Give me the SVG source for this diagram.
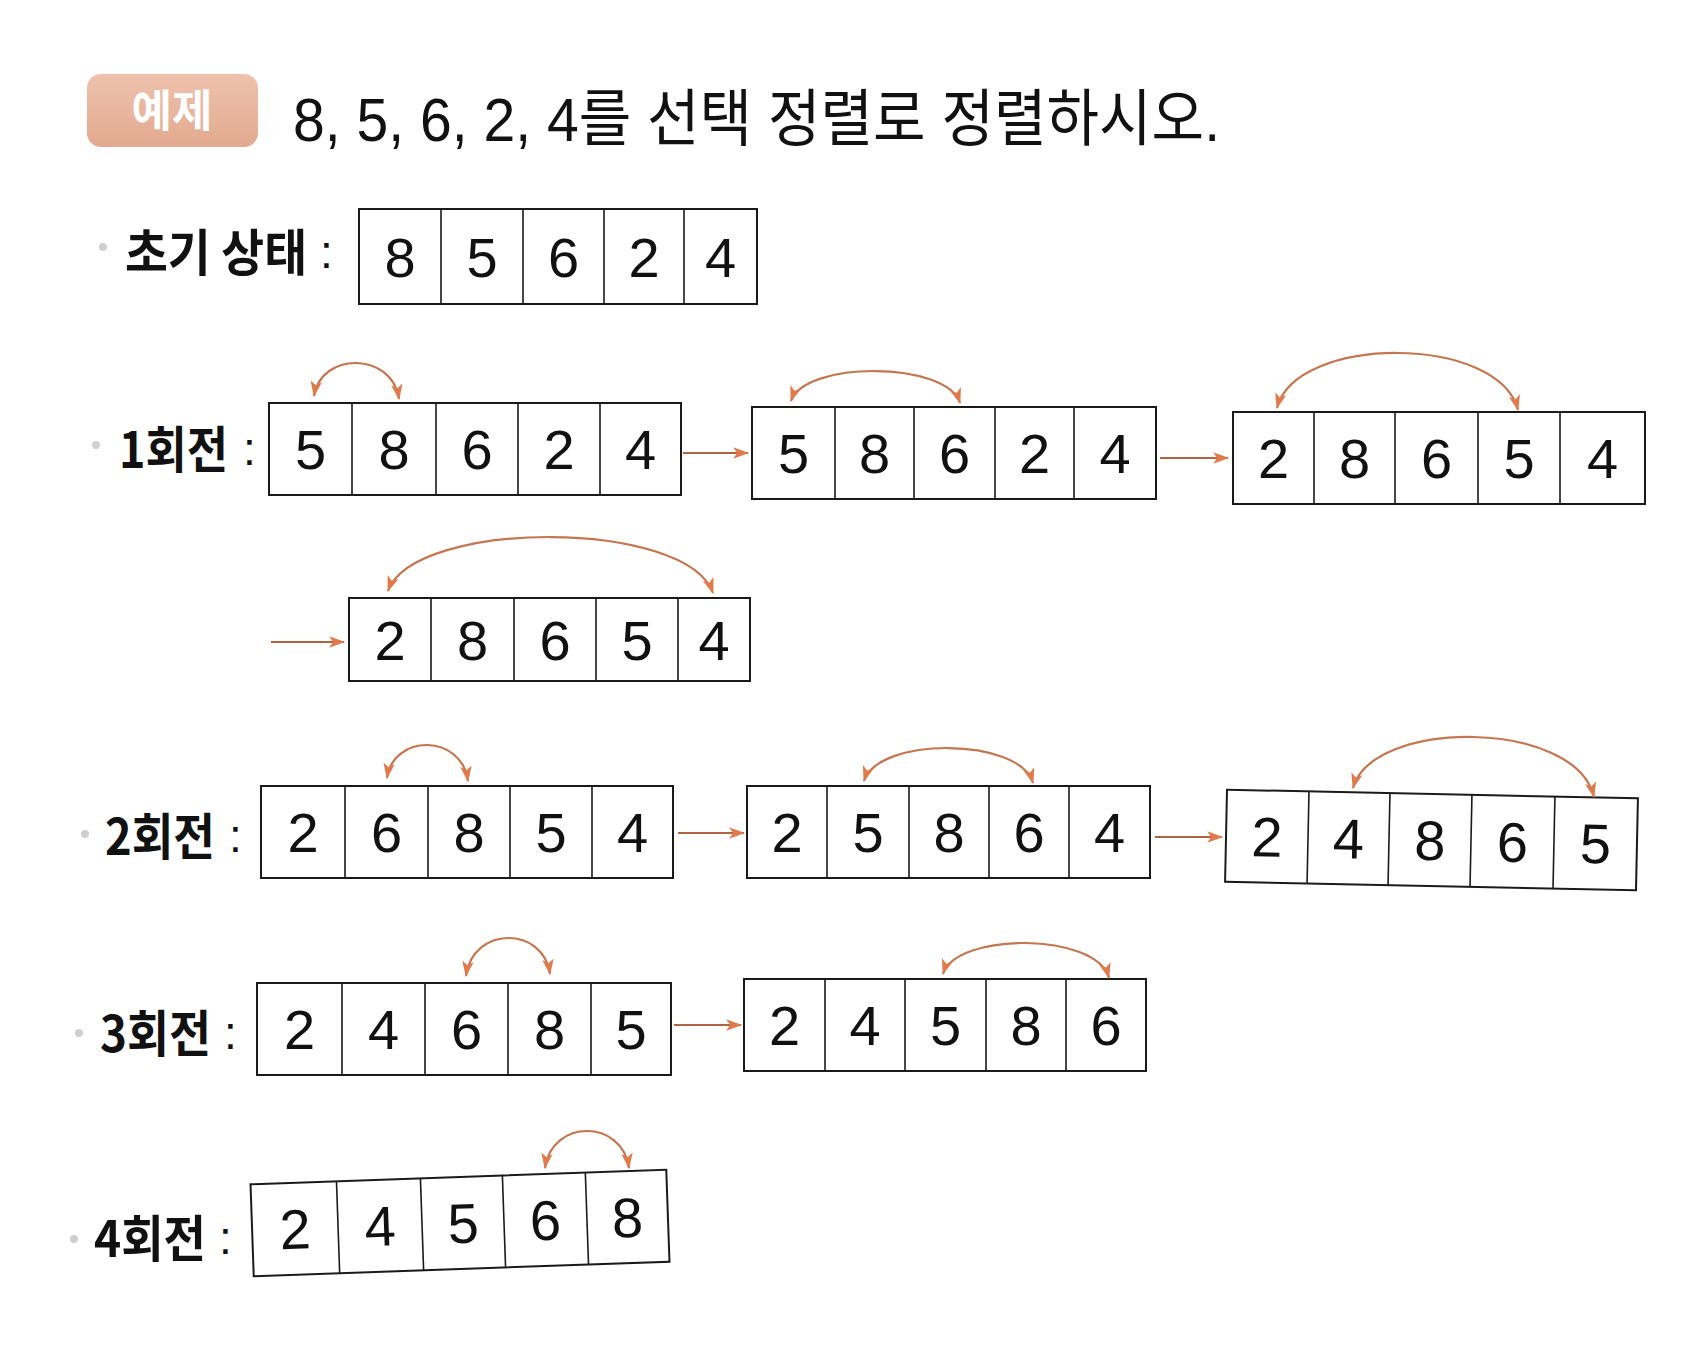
<svg xmlns="http://www.w3.org/2000/svg" width="1700" height="1367" viewBox="0 0 1700 1367">
<style>
.bg{fill:#ffffff}
.cell{fill:#ffffff;stroke:#1a1a1a;stroke-width:2}
.div{stroke:#1a1a1a;stroke-width:1.6}
.num{font-family:"Liberation Sans","Noto Sans",sans-serif;font-size:56px;fill:#111;text-anchor:middle}
.lab{font-family:"Noto Sans CJK KR","Noto Sans",sans-serif;font-weight:700;font-size:50px;fill:#111}
.colon{font-family:"Liberation Sans","Noto Sans",sans-serif;font-size:46px;fill:#111}
.title{font-family:"Liberation Sans","Noto Sans CJK KR",sans-serif;font-size:62px;fill:#111}
.badge{font-family:"Noto Sans CJK KR",sans-serif;font-weight:700;font-size:44px;fill:#ffffff;text-anchor:middle}
.dot{fill:#cfcfcf}
.arc{fill:none;stroke:#c47650;stroke-width:2.2}
.flow{fill:none;stroke:#b06440;stroke-width:2.2}
</style>
<defs>
<linearGradient id="bgrad" x1="0" y1="0" x2="0" y2="1">
<stop offset="0" stop-color="#eec2ad"/>
<stop offset="1" stop-color="#e2a98f"/>
</linearGradient>
<marker id="ah" viewBox="0 0 14 10" refX="13" refY="5" markerWidth="16" markerHeight="12" markerUnits="userSpaceOnUse" orient="auto-start-reverse">
<path d="M0,0 L14,5 L0,10 L3.5,5 z" fill="#e07a4c"/>
</marker>
</defs>
<rect class="bg" x="0" y="0" width="1700" height="1367"/>

<g id="title">
<rect x="87" y="74" width="171" height="73" rx="14" fill="url(#bgrad)"/>
<text class="badge" x="172" y="127">예제</text>
<text class="title" x="293" y="141" textLength="927" lengthAdjust="spacingAndGlyphs">8, 5, 6, 2, 4를 선택 정렬로 정렬하시오.</text>
</g>

<g id="labels">
<circle class="dot" cx="103" cy="247" r="4"/>
<text class="lab" x="125" y="271" textLength="182" lengthAdjust="spacingAndGlyphs">초기 상태</text>
<text class="colon" x="320" y="268">:</text>
<circle class="dot" cx="96" cy="445" r="4"/>
<text class="lab" x="119" y="468" textLength="109" lengthAdjust="spacingAndGlyphs">1회전</text>
<text class="colon" x="243" y="465">:</text>
<circle class="dot" cx="85" cy="834" r="4"/>
<text class="lab" x="105" y="855" textLength="110" lengthAdjust="spacingAndGlyphs">2회전</text>
<text class="colon" x="229" y="852">:</text>
<circle class="dot" cx="79" cy="1033" r="4"/>
<text class="lab" x="100" y="1052" textLength="111" lengthAdjust="spacingAndGlyphs">3회전</text>
<text class="colon" x="224" y="1049">:</text>
<circle class="dot" cx="74" cy="1239" r="4"/>
<text class="lab" x="94" y="1257" textLength="112" lengthAdjust="spacingAndGlyphs">4회전</text>
<text class="colon" x="219" y="1254">:</text>
</g>

<g id="init">
<rect class="cell" x="359" y="209" width="398" height="95"/>
<path class="div" d="M441,209V304M523,209V304M604,209V304M684,209V304"/>
<text class="num" x="400" y="277">8</text><text class="num" x="482" y="277">5</text><text class="num" x="563.5" y="277">6</text><text class="num" x="644" y="277">2</text><text class="num" x="720.5" y="277">4</text>
</g>

<g id="p1a">
<rect class="cell" x="269" y="403" width="412" height="92"/>
<path class="div" d="M352,403V495M436,403V495M518,403V495M600,403V495"/>
<text class="num" x="310.5" y="469">5</text><text class="num" x="394" y="469">8</text><text class="num" x="477" y="469">6</text><text class="num" x="559" y="469">2</text><text class="num" x="640.5" y="469">4</text>
</g>

<g id="p1b">
<rect class="cell" x="752" y="407" width="404" height="92"/>
<path class="div" d="M835,407V499M914,407V499M995,407V499M1074,407V499"/>
<text class="num" x="793.5" y="473">5</text><text class="num" x="874.5" y="473">8</text><text class="num" x="954.5" y="473">6</text><text class="num" x="1034.5" y="473">2</text><text class="num" x="1115" y="473">4</text>
</g>

<g id="p1c">
<rect class="cell" x="1233" y="412" width="412" height="92"/>
<path class="div" d="M1314,412V504M1395,412V504M1478,412V504M1560,412V504"/>
<text class="num" x="1273.5" y="478">2</text><text class="num" x="1354.5" y="478">8</text><text class="num" x="1436.5" y="478">6</text><text class="num" x="1519" y="478">5</text><text class="num" x="1602.5" y="478">4</text>
</g>

<g id="p1d">
<rect class="cell" x="349" y="598" width="401" height="83"/>
<path class="div" d="M431,598V681M514,598V681M596,598V681M678,598V681"/>
<text class="num" x="390" y="660">2</text><text class="num" x="472.5" y="660">8</text><text class="num" x="555" y="660">6</text><text class="num" x="637" y="660">5</text><text class="num" x="714" y="660">4</text>
</g>

<g id="p2a">
<rect class="cell" x="261" y="786" width="412" height="92"/>
<path class="div" d="M345,786V878M428,786V878M510,786V878M592,786V878"/>
<text class="num" x="303" y="852">2</text><text class="num" x="386.5" y="852">6</text><text class="num" x="469" y="852">8</text><text class="num" x="551" y="852">5</text><text class="num" x="632.5" y="852">4</text>
</g>

<g id="p2b">
<rect class="cell" x="747" y="786" width="403" height="92"/>
<path class="div" d="M827,786V878M909,786V878M989,786V878M1069,786V878"/>
<text class="num" x="787" y="852">2</text><text class="num" x="868" y="852">5</text><text class="num" x="949" y="852">8</text><text class="num" x="1029" y="852">6</text><text class="num" x="1109.5" y="852">4</text>
</g>

<g id="p2c" transform="rotate(1.2 1431 840)">
<rect class="cell" x="1226" y="794" width="411" height="92"/>
<path class="div" d="M1308,794V886M1389,794V886M1471,794V886M1554,794V886"/>
<text class="num" x="1267" y="860">2</text><text class="num" x="1348.5" y="860">4</text><text class="num" x="1430" y="860">8</text><text class="num" x="1512.5" y="860">6</text><text class="num" x="1595.5" y="860">5</text>
</g>

<g id="p3a">
<rect class="cell" x="257" y="983" width="414" height="92"/>
<path class="div" d="M342,983V1075M425,983V1075M508,983V1075M591,983V1075"/>
<text class="num" x="299.5" y="1049">2</text><text class="num" x="383.5" y="1049">4</text><text class="num" x="466.5" y="1049">6</text><text class="num" x="549.5" y="1049">8</text><text class="num" x="631" y="1049">5</text>
</g>

<g id="p3b">
<rect class="cell" x="744" y="979" width="402" height="92"/>
<path class="div" d="M825,979V1071M905,979V1071M986,979V1071M1066,979V1071"/>
<text class="num" x="784.5" y="1045">2</text><text class="num" x="865" y="1045">4</text><text class="num" x="945.5" y="1045">5</text><text class="num" x="1026" y="1045">8</text><text class="num" x="1106" y="1045">6</text>
</g>

<g id="p4a" transform="rotate(-2 460 1223)">
<rect class="cell" x="252" y="1177" width="416" height="92"/>
<path class="div" d="M338,1177V1269M422,1177V1269M504,1177V1269M587,1177V1269"/>
<text class="num" x="295" y="1243">2</text><text class="num" x="380" y="1243">4</text><text class="num" x="463" y="1243">5</text><text class="num" x="545.5" y="1243">6</text><text class="num" x="627.5" y="1243">8</text>
</g>

<g id="connectors">
<path class="arc" d="M314,396 C321,351.5 392,351.5 399,399" marker-start="url(#ah)" marker-end="url(#ah)"/>
<path class="arc" d="M791,401 C804.5,360.7 946.5,360.7 960,403" marker-start="url(#ah)" marker-end="url(#ah)"/>
<path class="arc" d="M1277,408 C1296,334.3 1499,334.3 1518,410" marker-start="url(#ah)" marker-end="url(#ah)"/>
<path class="arc" d="M388,591 C414,518.7 687,518.7 713,593" marker-start="url(#ah)" marker-end="url(#ah)"/>
<path class="arc" d="M387,778 C393.5,733.5 461.5,733.5 468,781" marker-start="url(#ah)" marker-end="url(#ah)"/>
<path class="arc" d="M864,781 C877.5,736.7 1019.5,736.7 1033,783" marker-start="url(#ah)" marker-end="url(#ah)"/>
<path class="arc" d="M1353,788 C1372,718.5 1575,718.5 1594,797" marker-start="url(#ah)" marker-end="url(#ah)"/>
<path class="arc" d="M466,976 C472.7,925.7 543.3,925.7 550,974" marker-start="url(#ah)" marker-end="url(#ah)"/>
<path class="arc" d="M943,974 C956,932 1096,932 1109,978" marker-start="url(#ah)" marker-end="url(#ah)"/>
<path class="arc" d="M545,1168 C551.7,1118.7 622.3,1118.7 629,1168" marker-start="url(#ah)" marker-end="url(#ah)"/>
<path class="flow" d="M683,453H748" marker-end="url(#ah)"/>
<path class="flow" d="M1160,458H1228" marker-end="url(#ah)"/>
<path class="flow" d="M271,642H344" marker-end="url(#ah)"/>
<path class="flow" d="M678,833H744" marker-end="url(#ah)"/>
<path class="flow" d="M1155,837H1222" marker-end="url(#ah)"/>
<path class="flow" d="M674,1025H741" marker-end="url(#ah)"/>
</g>
</svg>
